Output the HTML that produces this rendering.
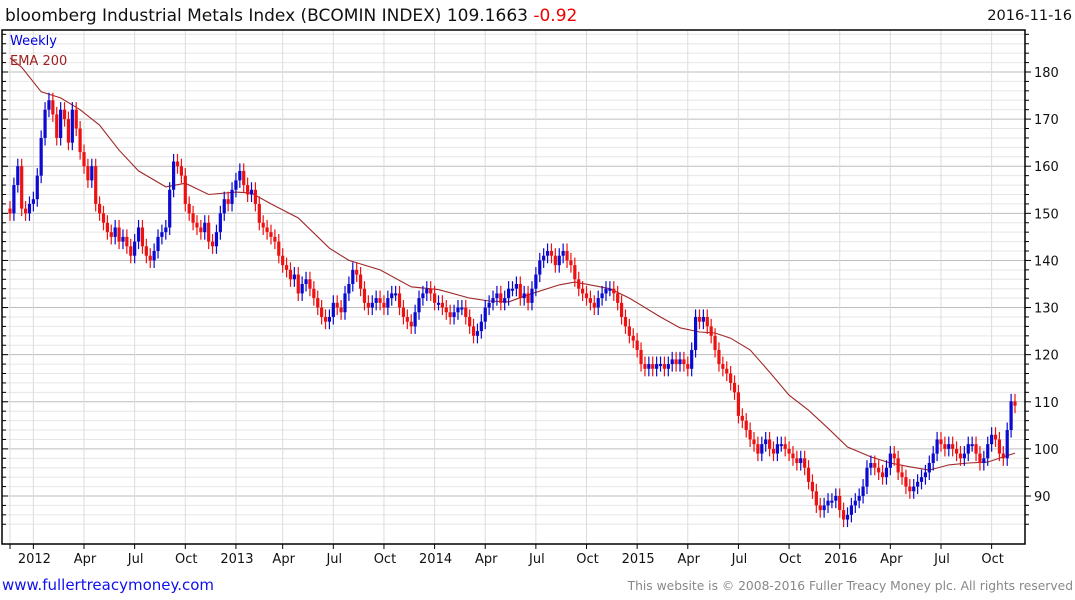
<!DOCTYPE html>
<html><head><meta charset="utf-8"><style>
body{margin:0;background:#fff;width:1075px;height:600px;overflow:hidden;font-family:"DejaVu Sans","Liberation Sans",sans-serif}
svg{display:block}
</style></head><body>
<svg width="1075" height="600" id="chart">
<text x="5" y="21" font-size="17" fill="#111">bloomberg Industrial Metals Index (BCOMIN INDEX) 109.1663 <tspan fill="#e00">-0.92</tspan></text>
<text x="1072" y="20" font-size="14.6" fill="#111" text-anchor="end">2016-11-16</text>
<g id="grid"></g>
<g id="ema"></g>
<g id="candles"></g>
<rect x="2" y="30" width="1023" height="514" fill="none" stroke="#000" stroke-width="1.5"/>
<g id="axes"></g>
<text x="10" y="45" font-size="13" fill="#0000dd">Weekly</text>
<text x="10" y="65" font-size="13" fill="#a02020">EMA 200</text>
<text x="2" y="590" font-size="15" fill="#1010ee">www.fullertreacymoney.com</text>
<text x="1073" y="590" font-size="12.3" fill="#888" text-anchor="end">This website is © 2008-2016 Fuller Treacy Money plc. All rights reserved</text>
</svg>
<script>
const closes=[150,156,160,151,150,152,
153,158,166,172,174,171,166,172,170,165,172,168,163,
160,157,160,152,150,148,146,145,147,144,145,143,141,
144,147,143,141,140,142,145,146,147,155,161,160,158,
152,150,148,147,146,148,144,143,146,150,153,152,155,
157,159,156,154,155,152,148,147,146,145,144,141,
139,138,136,137,133,135,136,134,132,130,128,127,128,
131,130,129,133,135,138,137,134,131,130,131,132,131,
130,132,133,133,130,128,127,126,129,132,133,134,133,
131,131,130,129,128,129,130,130,128,126,124,125,127,
130,131,132,133,131,132,134,134,135,132,133,131,134,
137,140,141,142,141,139,141,142,140,139,136,134,133,
132,131,130,132,133,134,134,133,131,128,126,124,123,
121,118,117,118,117,118,118,117,118,119,118,119,118,
117,121,128,127,128,126,124,121,118,117,116,114,112,
107,106,104,102,101,99,101,102,100,99,101,101,100,
99,98,97,98,96,93,91,88,87,88,89,89,90,
87,85,86,88,89,90,92,96,97,96,95,94,96,
99,98,95,94,92,91,92,93,94,95,97,99,102,
101,100,101,100,99,98,99,101,101,99,97,98,101,
103,102,99,98,104,110.09,109.17];
const emaWeeks=[0,3,8,13,18,23,28,33,40,45,51,58,62,67,74,82,87,95,103,110,118,123,128,133,141,145,149,154,159,167,172,177,181,185,190,195,200,205,210,215,221,226,231,236,241,246,251,255,258];
const emaVals=[183,181,175.8,174.5,172,168.7,163.4,159,155.6,156.4,154,154.5,154.3,152,149,142.6,140,138,134.4,133.8,132,131.4,131.2,132.7,134.8,135.4,134.8,134,132,128,125.7,124.8,124.6,123.5,121,116.3,111.4,108.2,104.4,100.4,98.3,97,96.2,95.5,96.6,97,97.2,98.3,99.1];
const tickLabels=["2012","Apr","Jul","Oct","2013","Apr","Jul","Oct","2014","Apr","Jul","Oct","2015","Apr","Jul","Oct","2016","Apr","Jul","Oct"];
const tickWeeks=[6,19,32,45,58,70,83,96,109,122,135,148,161,174,187,200,213,226,239,252];
const yTicks=[90,100,110,120,130,140,150,160,170,180];

const NS="http://www.w3.org/2000/svg";
const X0=10,X1=1015,N=closes.length;
function xs(i){return X0+i*(X1-X0)/(N-1);}
function ys(v){return 72+(180-v)*4.711;}
function mk(tag,attrs,parent){const e=document.createElementNS(NS,tag);for(const k in attrs)e.setAttribute(k,attrs[k]);parent.appendChild(e);return e;}
const grid=document.getElementById('grid'),axes=document.getElementById('axes'),cg=document.getElementById('candles'),eg=document.getElementById('ema');
for(let v=84;v<=190;v+=2){const y=ys(v);if(y<31||y>543)continue;
 const l=mk('line',{x1:2,x2:1025,y1:y,y2:y,stroke:v%10==0?'#bdbdbd':'#e6e6e6','stroke-width':1},grid);
 
 
 const t=mk('line',{x1:1025,x2:v%10==0?1031:1029,y1:y,y2:y,stroke:'#000'},axes);
 
 
 const t2=mk('line',{x1:2,x2:v%10==0?8:6,y1:y,y2:y,stroke:'#000'},axes);
 
 }
yTicks.forEach(v=>{const t=mk('text',{x:1034,y:ys(v)+5,'font-size':13,fill:'#111'},axes);t.textContent=v;
 
 });
const vg=[0].concat(tickWeeks);
vg.forEach((w,k)=>{const x=xs(w);const l=mk('line',{x1:x,x2:x,y1:31,y2:543,stroke:'#dcdcdc'},grid);
 
 
 const t=mk('line',{x1:x,x2:x,y1:544,y2:549,stroke:'#000'},axes);
 
 });
tickWeeks.forEach((w,k)=>{const t=mk('text',{x:xs(w)+1,y:563,'font-size':13,fill:'#111','text-anchor':'middle'},axes);t.textContent=tickLabels[k];
 
 });
let d='';emaWeeks.forEach((w,k)=>{d+=(k?'L':'M')+xs(w).toFixed(1)+' '+ys(emaVals[k]).toFixed(1);});
const ep=mk('path',{d:d,fill:'none',stroke:'#a02828','stroke-width':1.1},eg);


closes.forEach((c,i)=>{const o=i?closes[i-1]:c+1;const up=c>=o;const col=up?'#0a0ad0':'#ee1111';
 const x=xs(i);const hi=Math.max(o,c)+1.6,lo=Math.min(o,c)-1.6;
 const g=mk('g',{},cg);
 
 
 mk('line',{x1:x,x2:x,y1:ys(hi),y2:ys(lo),stroke:col,'stroke-width':1.2},g);
 const top=ys(Math.max(o,c)),h=Math.max(2,ys(Math.min(o,c))-top);
 mk('rect',{x:x-1.6,y:top,width:3.2,height:h,fill:col},g);});
</script>
</body></html>
